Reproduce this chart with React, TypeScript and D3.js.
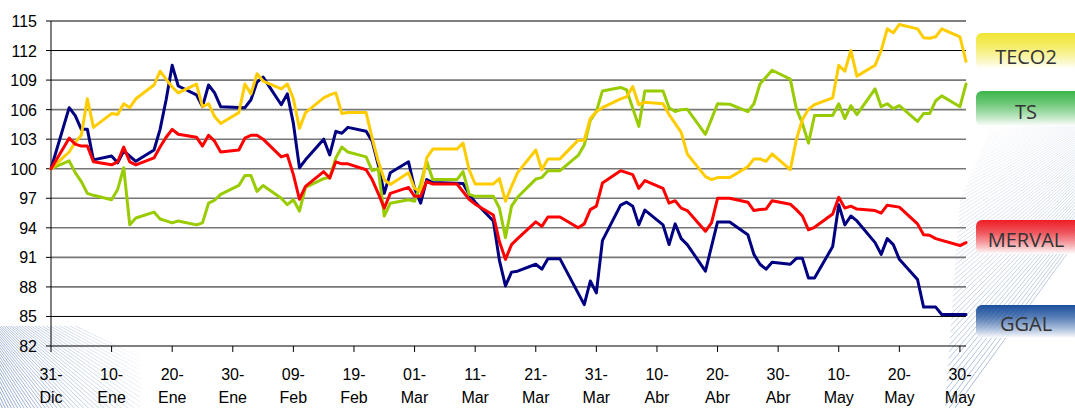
import React from "react";
import * as d3 from "d3";

type Pt = [string, number];

const yTickValues = [82, 85, 88, 91, 94, 97, 100, 103, 106, 109, 112, 115];
const monthNames = ["Ene", "Feb", "Mar", "Abr", "May", "Jun", "Jul", "Ago", "Sep", "Oct", "Nov", "Dic"];
const seriesNames = ["TECO2", "TS", "MERVAL", "GGAL"];

const ggal: Pt[] = [
  ["2010-12-31", 100], ["2011-01-03", 106.2], ["2011-01-04", 105.4], ["2011-01-05", 104.0], ["2011-01-06", 104.0], ["2011-01-07", 100.9],
  ["2011-01-10", 101.3], ["2011-01-11", 100.6], ["2011-01-12", 101.8], ["2011-01-14", 100.75],
  ["2011-01-17", 101.9], ["2011-01-18", 104.0], ["2011-01-19", 107.0], ["2011-01-20", 110.5], ["2011-01-21", 108.4],
  ["2011-01-24", 107.5], ["2011-01-25", 106.3], ["2011-01-26", 108.5], ["2011-01-27", 107.7], ["2011-01-28", 106.3],
  ["2011-02-01", 106.2], ["2011-02-02", 107.0], ["2011-02-03", 108.8], ["2011-02-04", 109.3],
  ["2011-02-07", 106.5], ["2011-02-08", 107.6], ["2011-02-09", 104.6], ["2011-02-10", 100.1], ["2011-02-11", 100.9],
  ["2011-02-14", 103.0], ["2011-02-15", 101.4], ["2011-02-16", 103.8], ["2011-02-17", 103.6], ["2011-02-18", 104.2],
  ["2011-02-21", 103.8], ["2011-02-22", 102.8], ["2011-02-23", 100.4], ["2011-02-24", 97.5], ["2011-02-25", 99.6],
  ["2011-02-28", 100.7], ["2011-03-01", 98.0], ["2011-03-02", 96.5], ["2011-03-03", 98.9], ["2011-03-04", 98.6],
  ["2011-03-09", 98.5], ["2011-03-10", 97.4], ["2011-03-11", 96.6],
  ["2011-03-14", 94.7], ["2011-03-15", 90.7], ["2011-03-16", 88.1], ["2011-03-17", 89.5], ["2011-03-18", 89.6],
  ["2011-03-21", 90.3], ["2011-03-22", 89.8], ["2011-03-23", 90.85], ["2011-03-25", 90.85],
  ["2011-03-29", 86.2], ["2011-03-30", 88.6], ["2011-03-31", 87.4], ["2011-04-01", 92.7],
  ["2011-04-04", 96.3], ["2011-04-05", 96.6], ["2011-04-06", 96.2], ["2011-04-07", 94.3], ["2011-04-08", 95.8],
  ["2011-04-11", 94.3], ["2011-04-12", 92.3], ["2011-04-13", 94.4], ["2011-04-14", 92.9], ["2011-04-15", 92.3],
  ["2011-04-18", 89.6], ["2011-04-20", 94.6], ["2011-04-22", 94.6],
  ["2011-04-25", 93.3], ["2011-04-26", 91.3], ["2011-04-27", 90.3], ["2011-04-28", 89.8], ["2011-04-29", 90.5],
  ["2011-05-02", 90.3], ["2011-05-03", 90.9], ["2011-05-04", 90.9], ["2011-05-05", 88.9], ["2011-05-06", 88.9],
  ["2011-05-09", 92.1], ["2011-05-10", 96.35], ["2011-05-11", 94.3], ["2011-05-12", 95.2], ["2011-05-13", 94.7],
  ["2011-05-16", 92.5], ["2011-05-17", 91.3], ["2011-05-18", 92.9], ["2011-05-19", 92.3], ["2011-05-20", 90.8],
  ["2011-05-23", 88.75], ["2011-05-24", 85.95], ["2011-05-26", 85.95], ["2011-05-27", 85.2], ["2011-05-31", 85.2],
];

const merval: Pt[] = [
  ["2010-12-31", 100], ["2011-01-03", 103.1], ["2011-01-04", 102.5], ["2011-01-05", 102.3], ["2011-01-06", 102.3], ["2011-01-07", 100.7],
  ["2011-01-10", 100.4], ["2011-01-11", 100.7], ["2011-01-12", 102.2], ["2011-01-13", 100.7], ["2011-01-14", 100.4],
  ["2011-01-17", 101.1], ["2011-01-18", 102.2], ["2011-01-19", 103.2], ["2011-01-20", 104.0], ["2011-01-21", 103.5],
  ["2011-01-24", 103.2], ["2011-01-25", 102.3], ["2011-01-26", 103.4], ["2011-01-27", 102.8], ["2011-01-28", 101.7],
  ["2011-01-31", 101.9], ["2011-02-01", 103.1], ["2011-02-02", 103.4], ["2011-02-03", 103.4], ["2011-02-04", 103.0],
  ["2011-02-07", 101.2], ["2011-02-08", 101.4], ["2011-02-09", 99.4], ["2011-02-10", 96.9], ["2011-02-11", 98.2],
  ["2011-02-14", 99.7], ["2011-02-15", 99.05], ["2011-02-16", 100.7], ["2011-02-17", 100.5], ["2011-02-18", 100.5],
  ["2011-02-21", 99.9], ["2011-02-22", 98.9], ["2011-02-23", 97.5], ["2011-02-24", 96.0], ["2011-02-25", 97.5],
  ["2011-02-28", 98.1], ["2011-03-01", 97.2], ["2011-03-02", 97.2], ["2011-03-03", 98.7], ["2011-03-04", 98.45],
  ["2011-03-08", 98.45], ["2011-03-10", 96.9], ["2011-03-11", 96.4],
  ["2011-03-14", 95.3], ["2011-03-15", 92.6], ["2011-03-16", 90.8], ["2011-03-17", 92.3], ["2011-03-18", 92.9],
  ["2011-03-21", 94.6], ["2011-03-22", 94.15], ["2011-03-23", 95.1], ["2011-03-25", 95.1],
  ["2011-03-28", 94.0], ["2011-03-29", 94.4], ["2011-03-30", 95.85], ["2011-03-31", 96.2], ["2011-04-01", 98.55],
  ["2011-04-04", 99.8], ["2011-04-06", 99.4], ["2011-04-07", 98.0], ["2011-04-08", 98.8],
  ["2011-04-11", 98.0], ["2011-04-12", 96.5], ["2011-04-13", 96.75], ["2011-04-14", 96.0], ["2011-04-15", 95.75],
  ["2011-04-18", 93.65], ["2011-04-19", 94.5], ["2011-04-20", 97.0], ["2011-04-22", 97.0],
  ["2011-04-25", 96.6], ["2011-04-26", 95.75], ["2011-04-27", 95.85], ["2011-04-28", 95.9], ["2011-04-29", 96.75],
  ["2011-05-02", 96.4], ["2011-05-03", 95.85], ["2011-05-04", 95.2], ["2011-05-05", 93.8], ["2011-05-06", 94.05],
  ["2011-05-09", 95.4], ["2011-05-10", 97.1], ["2011-05-11", 96.0], ["2011-05-12", 96.2], ["2011-05-13", 95.9],
  ["2011-05-16", 95.75], ["2011-05-17", 95.5], ["2011-05-18", 96.3], ["2011-05-20", 96.1],
  ["2011-05-23", 94.4], ["2011-05-24", 93.3], ["2011-05-25", 93.25], ["2011-05-26", 92.9], ["2011-05-30", 92.2], ["2011-05-31", 92.5],
];

const teco2: Pt[] = [
  ["2010-12-31", 100], ["2011-01-03", 101.7], ["2011-01-04", 102.7], ["2011-01-05", 103.4], ["2011-01-06", 107.1], ["2011-01-07", 104.2],
  ["2011-01-10", 105.6], ["2011-01-11", 105.5], ["2011-01-12", 106.6], ["2011-01-13", 106.2], ["2011-01-14", 107.1],
  ["2011-01-17", 108.5], ["2011-01-18", 109.9], ["2011-01-19", 109.1], ["2011-01-20", 108.3], ["2011-01-21", 107.7],
  ["2011-01-24", 108.6], ["2011-01-25", 106.3], ["2011-01-26", 106.6], ["2011-01-27", 105.3], ["2011-01-28", 104.6],
  ["2011-01-31", 105.7], ["2011-02-01", 108.6], ["2011-02-02", 107.6], ["2011-02-03", 109.65], ["2011-02-04", 108.9],
  ["2011-02-07", 108.1], ["2011-02-08", 108.6], ["2011-02-09", 107.1], ["2011-02-10", 104.1], ["2011-02-11", 105.7],
  ["2011-02-14", 107.2], ["2011-02-15", 107.5], ["2011-02-16", 107.7], ["2011-02-17", 105.6], ["2011-02-18", 105.7],
  ["2011-02-21", 105.7], ["2011-02-22", 103.1], ["2011-02-23", 100.75], ["2011-02-24", 98.9], ["2011-02-25", 98.4],
  ["2011-02-28", 99.6], ["2011-03-01", 98.0], ["2011-03-02", 97.7], ["2011-03-03", 101.1], ["2011-03-04", 102.0],
  ["2011-03-08", 102.0], ["2011-03-09", 102.6], ["2011-03-10", 99.9], ["2011-03-11", 98.45],
  ["2011-03-14", 98.45], ["2011-03-15", 99.0], ["2011-03-16", 96.7], ["2011-03-17", 98.2], ["2011-03-18", 99.6],
  ["2011-03-21", 101.9], ["2011-03-22", 99.9], ["2011-03-23", 101.0], ["2011-03-25", 101.0],
  ["2011-03-28", 102.9], ["2011-03-29", 102.9], ["2011-03-30", 105.1], ["2011-03-31", 105.8], ["2011-04-01", 106.2],
  ["2011-04-04", 107.1], ["2011-04-05", 107.3], ["2011-04-06", 108.35], ["2011-04-07", 106.5], ["2011-04-08", 106.75],
  ["2011-04-11", 106.6], ["2011-04-12", 105.5], ["2011-04-13", 104.6], ["2011-04-14", 103.7], ["2011-04-15", 101.5],
  ["2011-04-18", 99.2], ["2011-04-19", 98.9], ["2011-04-20", 99.1], ["2011-04-22", 99.1],
  ["2011-04-25", 100.2], ["2011-04-26", 101.0], ["2011-04-27", 101.0], ["2011-04-28", 100.75], ["2011-04-29", 101.5],
  ["2011-05-02", 99.9], ["2011-05-03", 102.95], ["2011-05-04", 105.0], ["2011-05-05", 106.05], ["2011-05-06", 106.5],
  ["2011-05-09", 107.2], ["2011-05-10", 110.5], ["2011-05-11", 109.9], ["2011-05-12", 112.0], ["2011-05-13", 109.4],
  ["2011-05-16", 110.5], ["2011-05-17", 112.0], ["2011-05-18", 114.2], ["2011-05-19", 113.8], ["2011-05-20", 114.65],
  ["2011-05-23", 114.2], ["2011-05-24", 113.3], ["2011-05-25", 113.25], ["2011-05-26", 113.4], ["2011-05-27", 114.2],
  ["2011-05-30", 113.4], ["2011-05-31", 110.9],
];

const ts: Pt[] = [
  ["2010-12-31", 100], ["2011-01-03", 100.8], ["2011-01-04", 99.6], ["2011-01-05", 98.7], ["2011-01-06", 97.5], ["2011-01-07", 97.3],
  ["2011-01-10", 96.85], ["2011-01-11", 97.9], ["2011-01-12", 100.1], ["2011-01-13", 94.3], ["2011-01-14", 95.0],
  ["2011-01-17", 95.6], ["2011-01-18", 94.9], ["2011-01-19", 94.7], ["2011-01-20", 94.5], ["2011-01-21", 94.7],
  ["2011-01-24", 94.3], ["2011-01-25", 94.5], ["2011-01-26", 96.5], ["2011-01-27", 96.8], ["2011-01-28", 97.4],
  ["2011-01-31", 98.3], ["2011-02-01", 99.3], ["2011-02-02", 99.3], ["2011-02-03", 97.7], ["2011-02-04", 98.3],
  ["2011-02-07", 97.0], ["2011-02-08", 96.35], ["2011-02-09", 96.85], ["2011-02-10", 95.7], ["2011-02-11", 98.1],
  ["2011-02-14", 99.0], ["2011-02-15", 99.1], ["2011-02-16", 101.1], ["2011-02-17", 102.2], ["2011-02-18", 101.7],
  ["2011-02-21", 101.2], ["2011-02-22", 99.8], ["2011-02-23", 100.0], ["2011-02-24", 95.2], ["2011-02-25", 96.5],
  ["2011-02-28", 96.85], ["2011-03-01", 96.7], ["2011-03-02", 98.45], ["2011-03-03", 100.75], ["2011-03-04", 98.9],
  ["2011-03-08", 98.9], ["2011-03-09", 99.7], ["2011-03-10", 97.4], ["2011-03-11", 97.2],
  ["2011-03-14", 97.2], ["2011-03-15", 96.0], ["2011-03-16", 93.0], ["2011-03-17", 96.2], ["2011-03-18", 97.1],
  ["2011-03-21", 98.95], ["2011-03-22", 99.1], ["2011-03-23", 99.8], ["2011-03-25", 99.8],
  ["2011-03-28", 101.35], ["2011-03-29", 102.4], ["2011-03-30", 104.9], ["2011-03-31", 105.8], ["2011-04-01", 107.9],
  ["2011-04-04", 108.25], ["2011-04-05", 108.0], ["2011-04-07", 104.3], ["2011-04-08", 107.9],
  ["2011-04-11", 107.9], ["2011-04-12", 106.2], ["2011-04-13", 105.8], ["2011-04-14", 106.0], ["2011-04-15", 106.05],
  ["2011-04-18", 103.5], ["2011-04-20", 106.6], ["2011-04-22", 106.55],
  ["2011-04-25", 105.8], ["2011-04-26", 106.6], ["2011-04-27", 108.6], ["2011-04-29", 110.0],
  ["2011-05-02", 109.1], ["2011-05-03", 106.1], ["2011-05-04", 104.6], ["2011-05-05", 102.6], ["2011-05-06", 105.4],
  ["2011-05-09", 105.4], ["2011-05-10", 106.6], ["2011-05-11", 105.1], ["2011-05-12", 106.4], ["2011-05-13", 105.5],
  ["2011-05-16", 108.1], ["2011-05-17", 106.3], ["2011-05-18", 106.6], ["2011-05-19", 106.1], ["2011-05-20", 106.4],
  ["2011-05-23", 104.8], ["2011-05-24", 105.6], ["2011-05-25", 105.6], ["2011-05-26", 106.9], ["2011-05-27", 107.4],
  ["2011-05-30", 106.3], ["2011-05-31", 108.6],
];

const parse = (s: string) => new Date(+s.slice(0, 4), +s.slice(5, 7) - 1, +s.slice(8, 10));

const W = 1075;
const H = 408;
const x = d3.scaleTime().domain([parse("2010-12-31"), parse("2011-05-31")]).range([51, 966]);
const y = d3.scaleLinear().domain([82, 115]).range([346, 21]);

const series = [
  { name: "GGAL", data: ggal, color: "#000080" },
  { name: "TS", data: ts, color: "#99CC00" },
  { name: "TECO2", data: teco2, color: "#FFCC00" },
  { name: "MERVAL", data: merval, color: "#FF0000" },
];

const legend = [
  { name: seriesNames[0], y0: 33, h: 36, top: "#f1e632", base: 63.5 },
  { name: seriesNames[1], y0: 91, h: 35, top: "#3cb54a", base: 118.5 },
  { name: seriesNames[2], y0: 220, h: 34, top: "#ee1c25", base: 246.5 },
  { name: seriesNames[3], y0: 305, h: 33, top: "#1b4f9c", base: 330.5 },
];

const darkGrid = new Set([82, 85, 112, 115]);

export default function App() {
  const line = d3
    .line<Pt>()
    .x((d) => x(parse(d[0])))
    .y((d) => y(d[1]));

  const start = parse("2010-12-31");
  const xTicks = d3.range(0, 16).map((i) => d3.timeDay.offset(start, i * 10));

  // decorative fans of thin lines (background artwork)
  const fanR = d3.range(126, 164, 0.6).map((a) => {
    const r = (a * Math.PI) / 180;
    const ox = 1215, oy = 50;
    return [ox, oy, ox + Math.cos(r) * 900, oy + Math.sin(r) * 900];
  });
  const fanL = d3.range(26, 74, 0.9).map((a) => {
    const r = (a * Math.PI) / 180;
    const ox = -70, oy = 255;
    return [ox, oy, ox + Math.cos(r) * 600, oy + Math.sin(r) * 600];
  });

  return (
    <svg
      width={W}
      height={H}
      style={{ position: "absolute", left: 0, top: 0, background: "#fff" }}
      fontFamily="'Liberation Sans', Arial, sans-serif"
    >
      <defs>
        <linearGradient id="fadeR" gradientUnits="userSpaceOnUse" x1={1075} y1={408} x2={930} y2={150}>
          <stop offset="0" stopColor="#8ea6cc" stopOpacity={1} />
          <stop offset="1" stopColor="#8ea6cc" stopOpacity={0} />
        </linearGradient>
        <linearGradient id="fadeL" gradientUnits="userSpaceOnUse" x1={0} y1={408} x2={135} y2={330}>
          <stop offset="0" stopColor="#8ea6cc" stopOpacity={1} />
          <stop offset="1" stopColor="#8ea6cc" stopOpacity={0} />
        </linearGradient>
        <clipPath id="clipR">
          <polygon points="1075,120 990,130 960,200 945,408 1075,408" />
        </clipPath>
        <clipPath id="clipL">
          <rect x={0} y={326} width={140} height={82} />
        </clipPath>
        {legend.map((l, i) => (
          <linearGradient key={i} id={`lg${i}`} x1="0" y1="0" x2="0" y2="1">
            <stop offset="0" stopColor={l.top} />
            <stop offset="0.35" stopColor={l.top} stopOpacity={0.75} />
            <stop offset="1" stopColor="#ffffff" stopOpacity={0.9} />
          </linearGradient>
        ))}
      </defs>

      <g clipPath="url(#clipR)">
        {fanR.map((l, i) => (
          <line key={i} x1={l[0]} y1={l[1]} x2={l[2]} y2={l[3]} stroke="url(#fadeR)" strokeWidth={1} />
        ))}
      </g>
      <g clipPath="url(#clipL)">
        {fanL.map((l, i) => (
          <line key={i} x1={l[0]} y1={l[1]} x2={l[2]} y2={l[3]} stroke="url(#fadeL)" strokeWidth={1} />
        ))}
      </g>

      {/* gridlines */}
      {yTickValues.map((v) => (
        <line
          key={v}
          x1={51}
          x2={966}
          y1={y(v)}
          y2={y(v)}
          stroke={darkGrid.has(v) ? "#000" : "#777"}
          strokeWidth={darkGrid.has(v) ? 1 : 1.6}
        />
      ))}
      {/* y axis */}
      <line x1={51} x2={51} y1={21} y2={346} stroke="#000" strokeWidth={1} />
      {yTickValues.map((v) => (
        <g key={v}>
          <line x1={46} x2={51} y1={y(v)} y2={y(v)} stroke="#000" />
          <text x={37} y={y(v) + 6} textAnchor="end" fontSize={16} fill="#000">
            {v}
          </text>
        </g>
      ))}
      {/* x axis ticks & labels */}
      {xTicks.map((t, i) => (
        <g key={i}>
          <line x1={x(t)} x2={x(t)} y1={346} y2={352} stroke="#000" />
          <text x={x(t)} y={380} textAnchor="middle" fontSize={16} fill="#000">
            {d3.timeFormat("%d")(t) + "-"}
          </text>
          <text x={x(t)} y={403} textAnchor="middle" fontSize={16} fill="#000">
            {monthNames[t.getMonth()]}
          </text>
        </g>
      ))}

      {/* series */}
      {series.map((s) => (
        <path
          key={s.name}
          d={line(s.data) || ""}
          fill="none"
          stroke={s.color}
          strokeWidth={3}
          strokeLinejoin="round"
          strokeLinecap="round"
        />
      ))}

      {/* legend boxes */}
      {legend.map((l, i) => (
        <g key={l.name}>
          <rect x={976} y={l.y0} width={110} height={l.h} rx={6} fill={`url(#lg${i})`} />
          <text
            x={1026}
            y={l.base}
            textAnchor="middle"
            fontSize={20}
            fill="#333"
            fontFamily="'Open Sans', 'Noto Sans', sans-serif"
          >
            {l.name}
          </text>
        </g>
      ))}
    </svg>
  );
}
